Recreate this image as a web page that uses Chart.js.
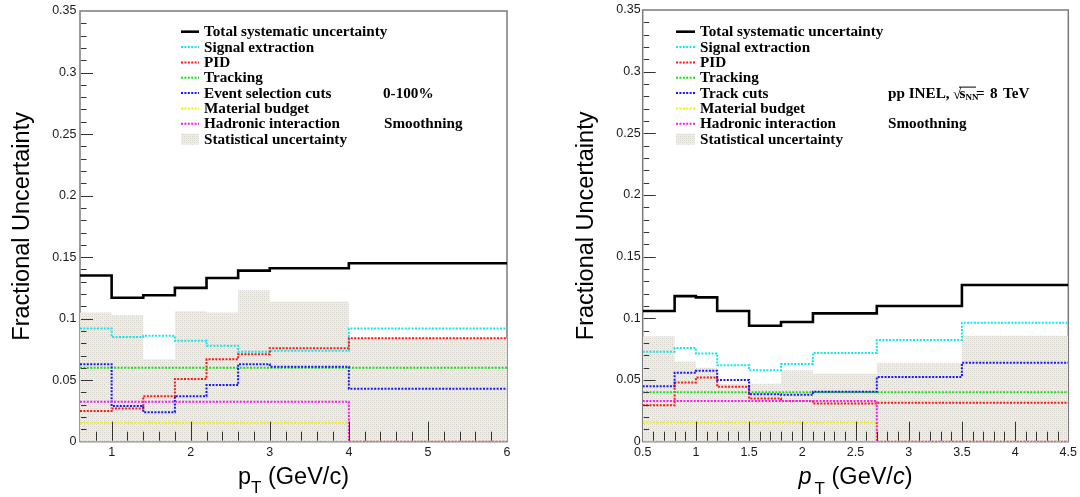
<!DOCTYPE html>
<html><head><meta charset="utf-8">
<script src="https://cdn.jsdelivr.net/npm/chart.js@4.4.1/dist/chart.umd.min.js"></script>
<style>
html,body{margin:0;padding:0;background:#fff;}
#wrap{position:relative;width:1080px;height:497px;overflow:hidden;}
canvas{position:absolute;top:0;}
</style></head><body>
<div id="wrap">
<canvas id="cL" width="540" height="497" style="left:0"></canvas>
<canvas id="cR" width="540" height="497" style="left:540px"></canvas>
</div>
<script>
/* Fractional uncertainty breakdown vs pT, two panels */
// left panel: 0-100%
const ptEdgesL=[0.6,1.0,1.4,1.8,2.2,2.6,3.0,4.0,6.0];
const totalL   =[0.135,0.117,0.119,0.125,0.133,0.139,0.141,0.145];
const signalL  =[0.092,0.085,0.086,0.082,0.078,0.073,0.074,0.092];
const pidL     =[0.025,0.027,0.037,0.051,0.067,0.071,0.076,0.084];
const trackingL=[0.060,0.060,0.060,0.060,0.060,0.060,0.060,0.060];
const evselL   =[0.063,0.029,0.024,0.037,0.046,0.063,0.061,0.043];
const materialL=[0.0155,0.0155,0.0155,0.0155,0.0155,0.0155,0.0155,0];
const hadronicL=[0.0325,0.0325,0.0325,0.0325,0.0325,0.0325,0.0325,0];
const statL    =[0.105,0.103,0.067,0.106,0.105,0.123,0.114,0.084];
// right panel: pp INEL 8 TeV
const ptEdgesR=[0.5,0.8,1.0,1.2,1.5,1.8,2.1,2.7,3.5,4.5];
const totalR   =[0.106,0.118,0.117,0.106,0.094,0.097,0.104,0.110,0.127];
const signalR  =[0.073,0.076,0.0715,0.062,0.058,0.063,0.072,0.0825,0.0965];
const pidR     =[0.0295,0.048,0.052,0.0445,0.035,0.033,0.031,0.0315,0.0315];
const trackingR=[0.040,0.040,0.040,0.040,0.040,0.040,0.040,0.040,0.040];
const cutsR    =[0.045,0.056,0.0575,0.050,0.0385,0.038,0.0405,0.0525,0.064];
const materialR=[0.0155,0.0155,0.0155,0.0155,0.0155,0.0155,0.0155,0,0];
const hadronicR=[0.033,0.033,0.033,0.033,0.033,0.033,0.033,0,0];
const statR    =[0.0855,0.065,0.060,0.047,0.047,0.058,0.055,0.064,0.086];
// axes
const yTicks=[0,0.05,0.1,0.15,0.2,0.25,0.3,0.35];
const yTickLabels=['0','0.05','0.1','0.15','0.2','0.25','0.3','0.35'];
const xTicksL=[1,2,3,4,5,6];
const xTickLabelsL=['1','2','3','4','5','6'];
const xTicksR=[0.5,1,1.5,2,2.5,3,3.5,4,4.5];
const xTickLabelsR=['0.5','1','1.5','2','2.5','3','3.5','4','4.5'];
const labelsL=['Total systematic uncertainty','Signal extraction','PID','Tracking','Event selection cuts','Material budget','Hadronic interaction','Statistical uncertainty'];
const labelsR=['Total systematic uncertainty','Signal extraction','PID','Tracking','Track cuts','Material budget','Hadronic interaction','Statistical uncertainty'];

const COL={total:'#000000',signal:'#10e8f0',pid:'#f81818',tracking:'#18e018',cuts:'#1818f8',material:'#f0f000',hadronic:'#f818f8'};
const SANS='"Liberation Sans",Arial,Helvetica,sans-serif';
const SERIF='"Liberation Serif","Times New Roman",serif';
const LEG_FONT='bold 15.2px '+SERIF;

// histogram outline: value i holds from edge i to edge i+1
function steps(edges,vals){ return edges.map((e,i)=>({x:e,y:vals[Math.min(i,vals.length-1)]})); }
function statPattern(){
  const c=document.createElement('canvas'); c.width=4; c.height=4;
  const g=c.getContext('2d');
  g.fillStyle='#eeece7'; g.fillRect(0,0,4,4);
  g.fillStyle='#d5d2ca'; g.fillRect(0,0,1,1); g.fillRect(2,2,1,1);
  g.fillStyle='#e2e0da'; g.fillRect(2,0,1,1); g.fillRect(0,2,1,1);
  return g.createPattern(c,'repeat');
}
function lineDs(label,edges,vals,color,order,solid){
  return {label,data:steps(edges,vals),stepped:'before',borderColor:color,borderWidth:solid?2.6:2,
    borderDash:solid?[]:[2,1.4],borderCapStyle:'butt',pointRadius:0,fill:false,order};
}
function statDs(label,edges,vals){
  return {label,data:steps(edges,vals),stepped:'before',borderWidth:0,borderColor:'rgba(0,0,0,0)',
    backgroundColor:statPattern(),fill:'origin',pointRadius:0,order:20};
}

// x title pieces: p_T (GeV/c)
function drawRich(ctx,parts,cx,base){
  let w=0; parts.forEach(p=>{ ctx.font=p.f; p.w=ctx.measureText(p.t).width; w+=p.w+(p.dx||0); });
  let x=cx-w/2; ctx.textAlign='left'; ctx.textBaseline='alphabetic';
  parts.forEach(p=>{ x+=(p.dx||0); ctx.font=p.f; ctx.fillText(p.t,x,base+(p.dy||0)); x+=p.w; });
}

const rootFrame={id:'rootFrame',
  beforeDatasetsDraw(chart){
    const {ctx,chartArea:a}=chart;
    ctx.save(); ctx.strokeStyle='#7a7a7a'; ctx.lineWidth=1.5;
    ctx.strokeRect(a.left,a.top,a.right-a.left,a.bottom-a.top);
    ctx.restore();
  },
  afterDatasetsDraw(chart,args,o){
    const {ctx,chartArea:a,scales:{x,y}}=chart;
    ctx.save();
    ctx.strokeStyle='#333'; ctx.lineWidth=1; ctx.beginPath();
    const nx=Math.round((x.max-x.min)/o.xMinor);
    for(let i=1;i<nx;i++){
      const v=x.min+i*o.xMinor, r=v/o.xMajor, major=Math.abs(r-Math.round(r))<1e-6;
      const px=Math.round(x.getPixelForValue(v))+0.5;
      ctx.moveTo(px,a.bottom-1); ctx.lineTo(px,a.bottom-(major?20:10));
    }
    const ny=Math.round((y.max-y.min)/0.01);
    for(let i=1;i<ny;i++){
      const v=y.min+i*0.01, major=i%5===0;
      const py=Math.round(y.getPixelForValue(v))+0.5;
      ctx.moveTo(a.left+1,py); ctx.lineTo(a.left+(major?13:6.5),py);
    }
    ctx.stroke();
    ctx.restore();
  },
  afterDraw(chart,args,o){
    const {ctx,chartArea:a}=chart;
    ctx.save(); ctx.fillStyle='#000';
    // axis titles
    drawRich(ctx,o.xTitle,(a.left+a.right)/2,484);
    ctx.save(); ctx.translate(o.yTitleX,(a.top+a.bottom)/2); ctx.rotate(-Math.PI/2);
    ctx.font='23.5px '+SANS; ctx.textAlign='center'; ctx.textBaseline='alphabetic';
    ctx.fillText('Fractional Uncertainty',0,0); ctx.restore();
    // legend
    chart.data.datasets.forEach((d,i)=>{
      const yy=o.legY+i*o.legDy;
      if(d.fill){ ctx.fillStyle=d.backgroundColor; ctx.fillRect(o.legX0,yy-5.5,o.legX1-o.legX0,11); }
      else{
        ctx.strokeStyle=d.borderColor; ctx.lineWidth=d.borderWidth; ctx.setLineDash(d.borderDash);
        ctx.beginPath(); ctx.moveTo(o.legX0,yy); ctx.lineTo(o.legX1,yy); ctx.stroke(); ctx.setLineDash([]);
      }
      ctx.fillStyle='#000'; ctx.font=LEG_FONT; ctx.textAlign='left'; ctx.fillText(d.label,o.legTx,yy+4.5);
    });
    o.notes(ctx,o);
    ctx.restore();
  }
};

function scales(xMin,xMax,xTicks,xLabels,yWidth,yPad){
  return {
    x:{type:'linear',min:xMin,max:xMax,grid:{display:false,drawTicks:false},border:{display:false},
      afterBuildTicks:s=>{s.ticks=xTicks.map(v=>({value:v}));},
      afterFit:s=>{s.height=55.3;},
      ticks:{autoSkip:false,maxRotation:0,padding:3,color:'#1a1a1a',font:{family:SANS,size:12.5},
        callback:(v)=>{const i=xTicks.findIndex(t=>Math.abs(t-v)<1e-9); return i<0?'':xLabels[i];}}},
    y:{type:'linear',min:0,max:0.35,grid:{display:false,drawTicks:false},border:{display:false},
      afterBuildTicks:s=>{s.ticks=yTicks.map(v=>({value:v}));},
      afterFit:s=>{s.width=yWidth;},
      ticks:{autoSkip:false,padding:yPad,color:'#1a1a1a',font:{family:SANS,size:12.5},
        callback:(v)=>{const i=yTicks.findIndex(t=>Math.abs(t-v)<1e-9); return i<0?'':yTickLabels[i];}}}
  };
}

function panel(id,edges,series,labels,xr,xTicks,xLabels,layout,frame){
  const [tot,sig,pid,trk,cut,mat,had,stat]=series;
  new Chart(document.getElementById(id),{type:'line',
    data:{datasets:[
      lineDs(labels[0],edges,tot,COL.total,0,true),
      lineDs(labels[1],edges,sig,COL.signal,6),
      lineDs(labels[2],edges,pid,COL.pid,5),
      lineDs(labels[3],edges,trk,COL.tracking,4),
      lineDs(labels[4],edges,cut,COL.cuts,3),
      lineDs(labels[5],edges,mat,COL.material,2),
      lineDs(labels[6],edges,had,COL.hadronic,1),
      statDs(labels[7],edges,stat)]},
    options:{responsive:false,animation:false,events:[],
      layout:{padding:layout.padding},
      plugins:{legend:{display:false},tooltip:{enabled:false},rootFrame:frame},
      scales:scales(xr[0],xr[1],xTicks,xLabels,layout.yWidth,layout.yPad)},
    plugins:[rootFrame]});
}

const pT=(it)=>{
  const f=s=>s+'px '+SANS, fi=s=>'italic '+s+'px '+SANS;
  return it
    ?[{t:'p',f:fi(23.5)},{t:'T',f:f(17),dy:10,dx:3},{t:' (GeV/',f:f(23.5)},{t:'c',f:fi(23.5)},{t:')',f:f(23.5)}]
    :[{t:'p',f:f(23.5)},{t:'T',f:f(17),dy:9},{t:' (GeV/c)',f:f(23.5)}];
};

panel('cL',ptEdgesL,[totalL,signalL,pidL,trackingL,evselL,materialL,hadronicL,statL],labelsL,
  [0.6,6],xTicksL,xTickLabelsL,{padding:{top:10,right:33,left:0,bottom:0},yWidth:80,yPad:3.5},
  {xMinor:0.2,xMajor:1,xTitle:pT(false),yTitleX:29,legX0:181,legX1:199,legTx:204,legY:31.7,legDy:15.35,
   notes:(ctx,o)=>{ctx.font=LEG_FONT; ctx.fillText('0-100%',383,o.legY+4*o.legDy+4.5); ctx.fillText('Smoothning',384,o.legY+6*o.legDy+4.5);}});

panel('cR',ptEdgesR,[totalR,signalR,pidR,trackingR,cutsR,materialR,hadronicR,statR],labelsR,
  [0.5,4.5],xTicksR,xTickLabelsR,{padding:{top:10,right:10,left:0,bottom:0},yWidth:102.7,yPad:2},
  {xMinor:0.1,xMajor:0.5,xTitle:pT(true),yTitleX:53,legX0:136,legX1:155,legTx:160,legY:31.7,legDy:15.35,
   notes:(ctx,o)=>{
     const yb=o.legY+4*o.legDy+4.5;
     ctx.font=LEG_FONT; ctx.fillText('pp INEL,',348,yb);
     // sqrt(s_NN)
     ctx.font='15px '+SERIF; ctx.fillText('\u221A',413,yb+1);
     ctx.strokeStyle='#000'; ctx.lineWidth=1; ctx.beginPath(); ctx.moveTo(419,yb-10.5); ctx.lineTo(436,yb-10.5); ctx.stroke();
     ctx.font=LEG_FONT; ctx.fillText('s',419.5,yb);
     ctx.font='bold 9px '+SERIF; ctx.fillText('NN',425.5,yb+2.5);
     ctx.font=LEG_FONT; ctx.fillText('=',436,yb); ctx.fillText('8',450,yb); ctx.fillText('TeV',463,yb);
     ctx.fillText('Smoothning',348,o.legY+6*o.legDy+4.5);}});
</script>
</body></html>
